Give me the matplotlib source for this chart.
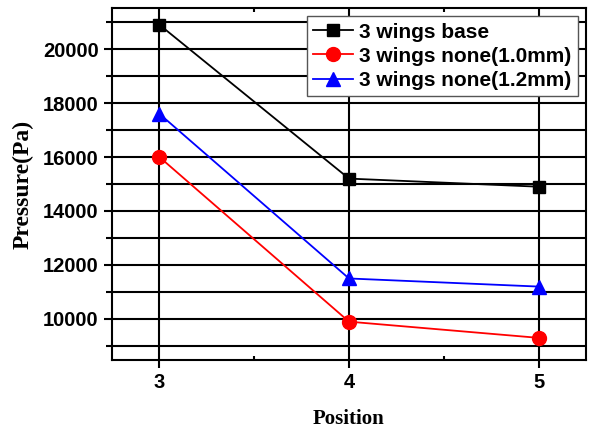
import matplotlib
matplotlib.use('Agg')
import matplotlib.pyplot as plt
from matplotlib.ticker import MultipleLocator

positions = [3, 4, 5]
base = [20900, 15200, 14900]
none_10 = [16000, 9900, 9300]
none_12 = [17600, 11500, 11200]
labels = ['3 wings base', '3 wings none(1.0mm)', '3 wings none(1.2mm)']

fig = plt.figure(figsize=(5.91, 4.30), dpi=100)
ax = fig.add_axes([0.1895, 0.1628, 0.802, 0.8186])

ax.plot(positions, base, color='black', marker='s', markersize=9, lw=1.3, label=labels[0])
ax.plot(positions, none_10, color='red', marker='o', markersize=10, lw=1.3, label=labels[1])
ax.plot(positions, none_12, color='blue', marker='^', markersize=10, lw=1.3, label=labels[2])

ax.set_xlim(2.75, 5.25)
ax.set_ylim(8480, 21520)
ax.xaxis.set_major_locator(MultipleLocator(1))
ax.xaxis.set_minor_locator(MultipleLocator(0.5))
ax.yaxis.set_major_locator(MultipleLocator(2000))
ax.yaxis.set_minor_locator(MultipleLocator(1000))

ax.grid(True, which='major', axis='x', color='black', lw=1.5)
ax.grid(True, which='both', axis='y', color='black', lw=1.5)
ax.set_axisbelow(True)

for s in ax.spines.values():
    s.set_linewidth(1.5)

ax.tick_params(which='major', direction='out', length=6, width=1.5, top=False, right=False)
ax.tick_params(which='minor', direction='out', length=4, width=1.5)
ax.tick_params(axis='x', which='minor', direction='in', length=3, top=True)
for lab in ax.get_xticklabels() + ax.get_yticklabels():
    lab.set_fontfamily('Liberation Sans')
    lab.set_fontweight('bold')
    lab.set_fontsize(14.5)

ax.set_xlabel('Position', fontfamily='Liberation Serif', fontweight='bold', fontsize=15, labelpad=12)
ax.set_ylabel('Pressure(Pa)', fontfamily='Liberation Serif', fontweight='bold', fontsize=17, labelpad=7)

leg = ax.legend(loc='upper right', prop={'family': 'Liberation Sans', 'weight': 'bold', 'size': 15},
                fancybox=False, framealpha=1, edgecolor='#555555', borderpad=0.3,
                labelspacing=0.25, handlelength=1.9, handletextpad=0.3, borderaxespad=0.4)
leg.get_frame().set_linewidth(1)

fig.savefig('out.png', dpi=100)
